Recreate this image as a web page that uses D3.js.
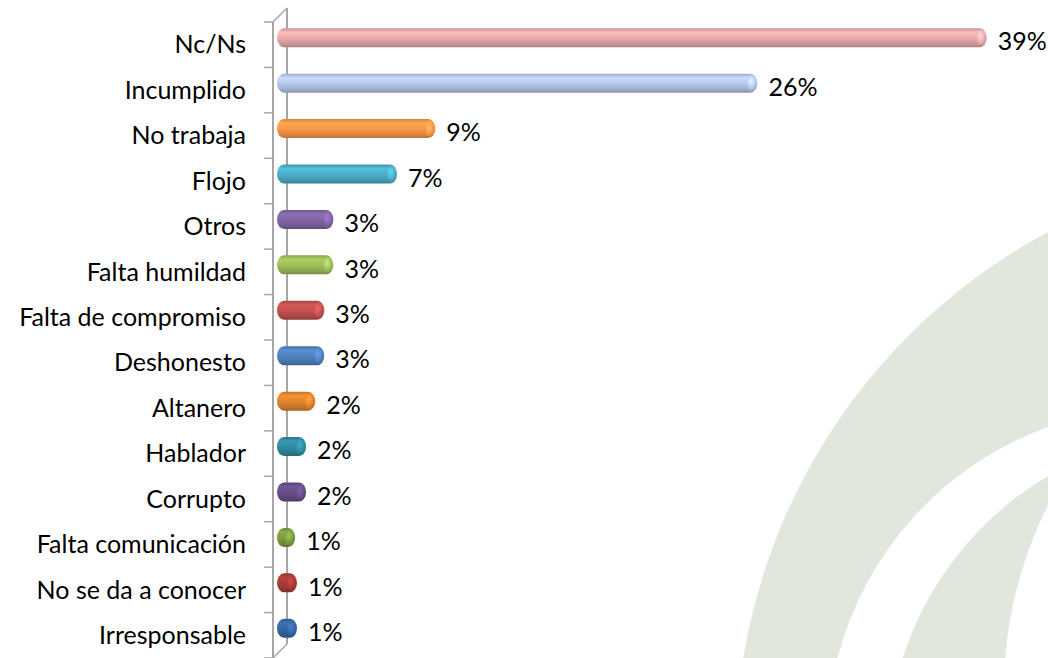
<!DOCTYPE html>
<html>
<head>
<meta charset="utf-8">
<script src="https://cdn.jsdelivr.net/npm/d3@7"></script>
<style>
    body { margin: 0; background: #fff; }
    svg { display: block; }
    text { font-family: Lato, "Open Sans", sans-serif; fill: #000; }
</style>
</head>
<body>
<div id="chart"></div>
<script>

// categories top to bottom, with the value (labels are rounded)
let categories = ["Nc/Ns", "Incumplido", "No trabaja", "Flojo", "Otros", "Falta humildad",
    "Falta de compromiso", "Deshonesto", "Altanero", "Hablador", "Corrupto",
    "Falta comunicación", "No se da a conocer", "Irresponsable"];
let values = [39.0, 26.4, 8.7, 6.6, 3.1, 3.1, 2.6, 2.6, 2.1, 1.6, 1.6, 1.0, 1.1, 1.1];
let colors = ["#e6a9a9", "#b4c6e8", "#f79646", "#4bacc6", "#8064a2", "#9bbb59", "#c0504d",
    "#4f81bd", "#e0822e", "#31899f", "#654d85", "#7a9a3e", "#a63b38", "#3865a3"];

let width = 1048, height = 658;
let depth = 14;   // offset of the 3d back wall

let svg = d3.select("#chart").append("svg")
    .attr("width", width)
    .attr("height", height);

let defs = svg.append("defs");

// background swoosh decoration
let bg = svg.append("g").attr("fill", "#e1e7dd");
bg.append("path")
    .attr("d", "M743,660 A592,592 0 0,1 1048,232 L1048,427 A335,335 0 0,0 837,660 Z");
bg.append("path")
    .attr("d", "M902,660 A330,330 0 0,1 1048,476 L1048,505 A420,420 0 0,0 1005,660 Z");

// scales
let y = d3.scaleBand()
    .domain(categories)
    .range([22, 658])
    .padding(0);

let x = d3.scaleLinear()
    .domain([0, 40])
    .range([277, 277 + 40 * 18.2]);

let axisX = 273;
let barH = 19;

// 3d axis wall
let wall = svg.append("g")
    .attr("stroke", "#a6a6a6")
    .attr("fill", "none");
wall.append("line")
    .attr("x1", axisX + depth).attr("x2", axisX + depth)
    .attr("y1", y.range()[0] - depth).attr("y2", y.range()[1] - depth)
    .attr("stroke-width", 2);
wall.append("line")
    .attr("x1", axisX).attr("x2", axisX + depth)
    .attr("y1", y.range()[0]).attr("y2", y.range()[0] - depth)
    .attr("stroke-width", 1.5);
wall.append("line")
    .attr("x1", axisX).attr("x2", axisX + depth)
    .attr("y1", y.range()[1]).attr("y2", y.range()[1] - depth)
    .attr("stroke-width", 1.5);

// bar gradients
colors.forEach((c, i) => {
    let base = d3.color(c);
    let g = defs.append("linearGradient")
        .attr("id", "grad" + i)
        .attr("x1", 0).attr("y1", 0).attr("x2", 0).attr("y2", 1);
    g.append("stop").attr("offset", "0%").attr("stop-color", base.darker(0.4));
    g.append("stop").attr("offset", "22%").attr("stop-color", base.brighter(0.3));
    g.append("stop").attr("offset", "55%").attr("stop-color", base);
    g.append("stop").attr("offset", "85%").attr("stop-color", base.darker(0.4));
    g.append("stop").attr("offset", "100%").attr("stop-color", base.darker(0.8));

    let r = defs.append("radialGradient")
        .attr("id", "cap" + i)
        .attr("cx", "45%").attr("cy", "40%").attr("r", "60%");
    r.append("stop").attr("offset", "0%").attr("stop-color", base.brighter(0.8));
    r.append("stop").attr("offset", "60%").attr("stop-color", base.brighter(0.2));
    r.append("stop").attr("offset", "100%").attr("stop-color", base.darker(0.4));
});

let data = categories.map((c, i) => ({name: c, value: values[i], idx: i}));
let barMid = d => y(d.name) + y.bandwidth() / 2 - depth / 2;

// bars
let bars = svg.append("g").selectAll(".bar")
    .data(data)
    .enter().append("g")
    .attr("class", "bar");

bars.append("rect")
    .attr("x", x(0))
    .attr("y", d => barMid(d) - barH / 2)
    .attr("width", d => x(d.value) - x(0))
    .attr("height", barH)
    .attr("rx", 7)
    .attr("ry", barH / 2)
    .attr("fill", d => `url(#grad${d.idx})`);

bars.append("ellipse")
    .attr("cx", d => x(d.value) - 6)
    .attr("cy", d => barMid(d))
    .attr("rx", 5)
    .attr("ry", barH / 2 - 1.5)
    .attr("fill", d => `url(#cap${d.idx})`)
    .attr("opacity", 0.8);

// front axis line and ticks on band boundaries
wall.append("line")
    .attr("x1", axisX).attr("x2", axisX)
    .attr("y1", y.range()[0]).attr("y2", y.range()[1])
    .attr("stroke-width", 2);

let bounds = categories.map(c => y(c)).concat([y.range()[1]]);
wall.selectAll(".tick")
    .data(bounds)
    .enter().append("line")
    .attr("x1", axisX - 9).attr("x2", axisX)
    .attr("y1", d => d).attr("y2", d => d)
    .attr("stroke-width", 1.5);

// category labels
svg.append("g").selectAll(".catLabel")
    .data(data)
    .enter().append("text")
    .attr("class", "catLabel")
    .attr("x", 246)
    .attr("y", d => y(d.name) + y.bandwidth() / 2)
    .attr("dy", "0.35em")
    .attr("text-anchor", "end")
    .style("font-size", "25px")
    .text(d => d.name);

// value labels
svg.append("g").selectAll(".valLabel")
    .data(data)
    .enter().append("text")
    .attr("class", "valLabel")
    .attr("x", d => x(d.value) + 11)
    .attr("y", d => barMid(d) + 4)
    .attr("dy", "0.35em")
    .style("font-size", "25px")
    .text(d => d3.format(".0f")(d.value) + "%");

</script>
</body>
</html>
